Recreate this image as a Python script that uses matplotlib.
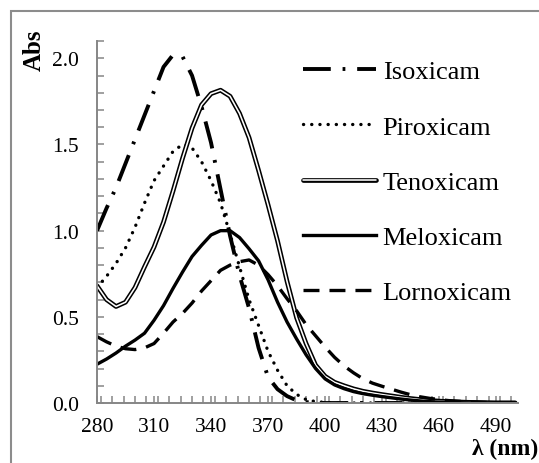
import matplotlib
matplotlib.use("Agg")
import matplotlib.pyplot as plt
import matplotlib.patheffects as pe
from matplotlib.patches import Rectangle
from matplotlib.ticker import MultipleLocator, FormatStrFormatter

plt.rcParams['font.family'] = ['Liberation Serif', 'DejaVu Serif']
plt.rcParams['lines.scale_dashes'] = False

# --- Spectra (absorbance vs wavelength, nm) ---
wavelength = list(range(280, 501, 5))

isoxicam = [1.00, 1.13, 1.25, 1.39, 1.53, 1.67, 1.81, 1.95, 2.02, 2.01,
            1.90, 1.72, 1.51, 1.24, 0.97, 0.74, 0.55, 0.32, 0.15, 0.08,
            0.04, 0.015, 0.005, 0.002] + [0.0] * 21

piroxicam = [0.67, 0.735, 0.81, 0.90, 1.02, 1.16, 1.29, 1.375, 1.46, 1.50,
             1.48, 1.40, 1.29, 1.16, 0.98, 0.79, 0.60, 0.45, 0.30, 0.19,
             0.10, 0.05, 0.02, 0.008, 0.003] + [0.0] * 20

tenoxicam = [0.68, 0.60, 0.56, 0.585, 0.67, 0.79, 0.905, 1.05, 1.23, 1.42,
             1.595, 1.73, 1.795, 1.815, 1.78, 1.68, 1.54, 1.35, 1.15, 0.94,
             0.705, 0.495, 0.345, 0.22, 0.155, 0.12, 0.10, 0.082, 0.068, 0.058,
             0.049, 0.041, 0.033, 0.026, 0.020, 0.015, 0.011, 0.008, 0.006, 0.004,
             0.003, 0.002, 0.001, 0.001, 0.001]

meloxicam = [0.225, 0.255, 0.29, 0.33, 0.365, 0.405, 0.48, 0.565, 0.665, 0.76,
             0.85, 0.915, 0.975, 1.00, 1.00, 0.96, 0.895, 0.825, 0.715, 0.585,
             0.47, 0.372, 0.28, 0.20, 0.14, 0.105, 0.083, 0.066, 0.054, 0.045,
             0.037, 0.030, 0.023, 0.017, 0.012, 0.008, 0.005, 0.003, 0.002, 0.001,
             0.0, 0.0, 0.0, 0.0, 0.0]

lornoxicam = [0.385, 0.355, 0.33, 0.315, 0.31, 0.32, 0.345, 0.405, 0.47, 0.52,
              0.58, 0.65, 0.71, 0.77, 0.80, 0.82, 0.83, 0.80, 0.745, 0.68,
              0.605, 0.535, 0.455, 0.39, 0.325, 0.265, 0.215, 0.175, 0.14, 0.115,
              0.097, 0.08, 0.063, 0.048, 0.036, 0.027, 0.020, 0.014, 0.010, 0.007,
              0.005, 0.003, 0.002, 0.001, 0.001]

x_ticks = list(range(280, 491, 30))
y_ticks = [0.0, 0.5, 1.0, 1.5, 2.0]

GREY = '#868686'

fig = plt.figure(figsize=(5.39, 4.64), dpi=100)
ax = fig.add_axes([0.18, 0.1293, 0.781, 0.780])

ax.plot(wavelength, isoxicam, color='black', lw=2.8,
        dashes=(20, 8.5, 2, 8.5), dash_joinstyle='round', label='Isoxicam')
ax.plot(wavelength, piroxicam, color='black', lw=2.4,
        dashes=(0.1, 5.8), dash_capstyle='round', label='Piroxicam')
ax.plot(wavelength, tenoxicam, color='white', lw=1.15, label='Tenoxicam',
        solid_joinstyle='round', solid_capstyle='round',
        path_effects=[pe.Stroke(linewidth=3.4, foreground='black',
                                joinstyle='round', capstyle='round'),
                      pe.Normal()])
ax.plot(wavelength, meloxicam, color='black', lw=2.4,
        solid_joinstyle='round', label='Meloxicam')
ax.plot(wavelength, lornoxicam, color='black', lw=2.4,
        dashes=(11.5, 7.2), dash_joinstyle='round', label='Lornoxicam')

ax.set_xlim(280, 501.5)
ax.set_ylim(0, 2.1)

ax.set_xticks(x_ticks)
ax.xaxis.set_minor_locator(MultipleLocator(6))
ax.set_yticks(y_ticks)
ax.yaxis.set_minor_locator(MultipleLocator(0.1))
ax.yaxis.set_major_formatter(FormatStrFormatter('%.1f'))

for side in ('top', 'right'):
    ax.spines[side].set_visible(False)
for side in ('left', 'bottom'):
    ax.spines[side].set_color(GREY)
    ax.spines[side].set_linewidth(1.4)

ax.tick_params(which='both', direction='in', length=5, width=1.1,
               color=GREY, labelsize=15.5)
ax.tick_params(axis='y', which='major', pad=13)
ax.tick_params(axis='x', which='major', pad=10)

leg = ax.legend(loc='upper left', bbox_to_anchor=(303 / 539, 1 - 61 / 464),
                bbox_transform=fig.transFigure, frameon=False, fontsize=19,
                handlelength=2.75, handletextpad=0.27, labelspacing=1.2,
                borderpad=0, borderaxespad=0)

fig.text(34 / 539, 1 - 50 / 464, 'Abs', rotation=90, fontsize=18,
         fontweight='bold', ha='center', va='center')
fig.text(0.998, 4 / 464, 'λ (nm)', fontsize=17, fontweight='bold',
         ha='right', va='bottom')

# outer chart frame (only the top and left edges fall inside the canvas)
fig.add_artist(Rectangle((11 / 539, -0.1), 1.2, 1.1 - 12 / 464,
                         transform=fig.transFigure, fill=False,
                         ec='#8c8c8c', lw=1.5))

fig.savefig('out.png', dpi=100)
